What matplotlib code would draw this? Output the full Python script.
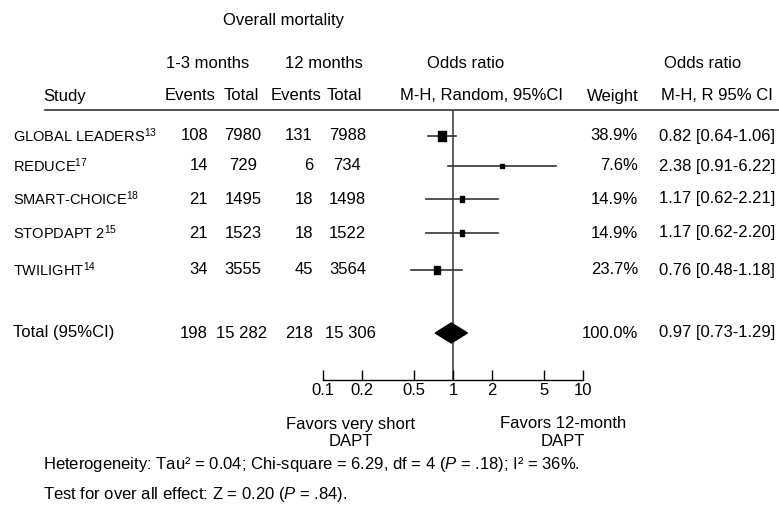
import matplotlib
matplotlib.use('Agg')
import matplotlib.pyplot as plt
from matplotlib.lines import Line2D
from matplotlib.path import Path

plt.rcParams['font.family'] = ['Liberation Sans', 'DejaVu Sans']
plt.rcParams['mathtext.fontset'] = 'custom'
plt.rcParams['mathtext.rm'] = 'Liberation Sans'
plt.rcParams['mathtext.it'] = 'Liberation Sans:italic'

# data
studies = ['GLOBAL LEADERS', 'REDUCE', 'SMART-CHOICE', 'STOPDAPT 2', 'TWILIGHT']
refs = ['13', '17', '18', '15', '14']
events_short = [108, 14, 21, 21, 34]
total_short = [7980, 729, 1495, 1523, 3555]
events_12m = [131, 6, 18, 18, 45]
total_12m = [7988, 734, 1498, 1522, 3564]
odds = [0.82, 2.38, 1.17, 1.17, 0.76]
ci_low = [0.64, 0.91, 0.62, 0.62, 0.48]
ci_high = [1.06, 6.22, 2.21, 2.20, 1.18]
weights = [38.9, 7.6, 14.9, 14.9, 23.7]

pooled = {'events_short': '198', 'total_short': '15 282',
          'events_12m': '218', 'total_12m': '15 306',
          'or': 0.97, 'low': 0.73, 'high': 1.29, 'weight': 100.0}

xticks = [0.1, 0.2, 0.5, 1, 2, 5, 10]
xtick_labels = ['0.1', '0.2', '0.5', '1', '2', '5', '10']

W, H = 779, 507
FS = 12
fig = plt.figure(figsize=(W / 100, H / 100), dpi=100)

# layout in pixels (from top-left)
row_y = [136, 166, 199, 233, 270]
total_y = 333
header_line_y = 110
axis_y = 380
x01, x10 = 322.7, 583.3


def tx(x, y, s, size=FS, ha='center', **kw):
    fig.text(x / W, 1 - y / H, s, ha=ha, va='center', fontsize=size, **kw)


# forest axes, x on log scale, y in pixel rows
ax = fig.add_axes([x01 / W, 1 - axis_y / H, (x10 - x01) / W,
                   (axis_y - header_line_y) / H])
ax.set_xscale('log')
ax.set_xlim(0.1, 10)
ax.set_ylim(axis_y, header_line_y)
for s in ['top', 'left', 'right']:
    ax.spines[s].set_visible(False)
ax.spines['bottom'].set_linewidth(1.0)
ax.set_yticks([])
ax.set_xticks(xticks)
ax.set_xticklabels(xtick_labels, fontsize=FS)
ax.minorticks_off()
ax.tick_params(axis='x', direction='in', length=7, width=1, pad=2)
ax.patch.set_visible(False)

ax.axvline(1, color='#555555', lw=1.3, zorder=1)

# study rows
rect = Path([(-0.72, -1), (0.72, -1), (0.72, 1), (-0.72, 1), (-0.72, -1)],
            [Path.MOVETO, Path.LINETO, Path.LINETO, Path.LINETO, Path.CLOSEPOLY])
for i in range(len(studies)):
    y = row_y[i]
    ax.plot([ci_low[i], ci_high[i]], [y, y], color='#333333', lw=1.2, zorder=2)
    ax.plot(odds[i], y, marker=rect, color='black',
            markersize=1.15 * weights[i] ** 0.5, zorder=3)

# pooled diamond
d = 10
ax.fill([pooled['low'], pooled['or'], pooled['high'], pooled['or']],
        [total_y, total_y - d, total_y, total_y + d], color='black', zorder=3)

# header
tx(283.5, 21, 'Overall mortality')
tx(207.5, 63, '1-3 months')
tx(323.5, 63, '12 months')
tx(466, 63, 'Odds ratio')
tx(703, 63, 'Odds ratio')
tx(64.5, 96, 'Study')
tx(190, 96, 'Events')
tx(241, 96, 'Total')
tx(296.5, 96, 'Events')
tx(344.5, 96, 'Total')
tx(482, 96, 'M-H, Random, 95%CI')
tx(612.5, 96, 'Weight')
tx(717, 96, 'M-H, R 95% CI')
fig.add_artist(Line2D([45 / W, 1], [1 - header_line_y / H] * 2,
                      transform=fig.transFigure, color='#333333', lw=1.2))

# table rows
for i in range(len(studies)):
    y = row_y[i]
    tx(13, y, studies[i] + r'$^{\mathregular{' + refs[i] + '}}$', size=10.5, ha='left')
    tx(208, y, str(events_short[i]), ha='right')
    tx(243, y, str(total_short[i]))
    tx(313, y, str(events_12m[i]), ha='right')
    tx(347.5, y, str(total_12m[i]))
    tx(638, y, f'{weights[i]:.1f}%', ha='right')
    tx(659, y, f'{odds[i]:.2f} [{ci_low[i]:.2f}-{ci_high[i]:.2f}]', ha='left')

tx(13, total_y, 'Total (95%CI)', ha='left')
tx(208, total_y, pooled['events_short'], ha='right')
tx(242, total_y, pooled['total_short'])
tx(313, total_y, pooled['events_12m'], ha='right')
tx(350, total_y, pooled['total_12m'])
tx(638, total_y, f"{pooled['weight']:.1f}%", ha='right')
tx(659, total_y, f"{pooled['or']:.2f} [{pooled['low']:.2f}-{pooled['high']:.2f}]", ha='left')

# footer
tx(351, 424, 'Favors very short')
tx(351, 441, 'DAPT')
tx(563, 424, 'Favors 12-month')
tx(563, 441, 'DAPT')
tx(43, 465, r'Heterogeneity: Tau² = 0.04; Chi-square = 6.29, df = 4 ($\mathit{P}$ = .18); I² = 36%.', ha='left')
tx(43, 494, r'Test for over all effect: Z = 0.20 ($\mathit{P}$ = .84).', ha='left')

fig.savefig('out.png', dpi=100)
